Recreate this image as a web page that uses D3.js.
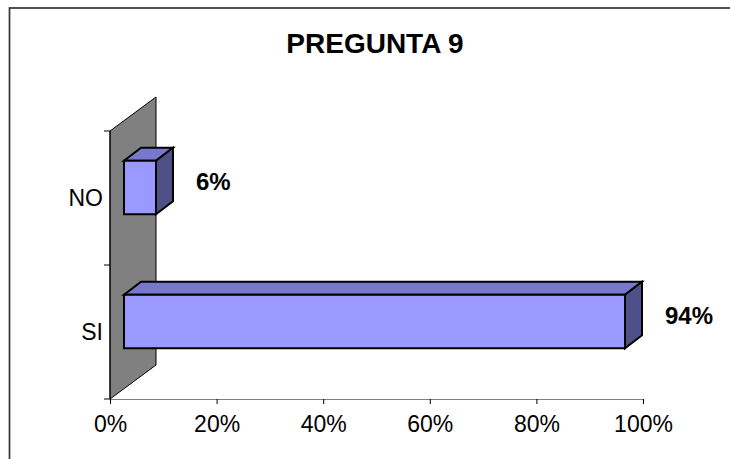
<!DOCTYPE html>
<html>
<head>
<meta charset="utf-8">
<script src="https://cdn.jsdelivr.net/npm/d3@7"></script>
<style>
  body { margin: 0; background: #fff; }
  .chart { width: 730px; height: 459px; }
  text { font-family: "Liberation Sans", Arial, sans-serif; fill: #000; }
</style>
</head>
<body>
<div class="chart"></div>
<script>
// data
let categories = ["NO", "SI"];
let values = [0.06, 0.94];
let valueLabels = ["6%", "94%"];
let xTicks = [0, 0.2, 0.4, 0.6, 0.8, 1];
let titleText = "PREGUNTA 9";

let chart = {};

init();

function init() {
    chart.data = categories.map((c, i) => {
        return { cat: c, val: values[i], label: valueLabels[i] };
    });
    setDimensions();
    setScales();
    appendElements();
}

function setDimensions() {
    chart.width = 730;
    chart.height = 459;
    // depth of the back wall (3d look)
    chart.wall = { dx: 46, dy: -34 };
    // where the bar front sits inside the depth, and bar thickness
    chart.barFront = { dx: 14, dy: -10.5 };
    chart.barBack = { dx: 17, dy: -13 };
}

function setScales() {
    chart.xScale = d3.scaleLinear()
        .domain([0, 1])
        .range([110, 643]);

    chart.yScale = d3.scaleBand()
        .domain(categories)
        .range([131, 399])
        .padding(0);
}

function pts(arr) {
    return arr.map(p => p.join(",")).join(" ");
}

function appendElements() {
    chart.svg = d3.select(".chart").append("svg")
        .attr("width", chart.width)
        .attr("height", chart.height);

    // outer frame
    chart.svg.append("rect")
        .attr("x", 9.5)
        .attr("y", 8)
        .attr("width", 760)
        .attr("height", 500)
        .attr("fill", "none")
        .attr("stroke", "#333")
        .attr("stroke-width", 1.7);

    chart.svg.append("text")
        .attr("x", 375)
        .attr("y", 53)
        .attr("text-anchor", "middle")
        .style("font-size", "28px")
        .style("font-weight", "bold")
        .text(titleText);

    let x0 = chart.xScale(0);
    let yTop = chart.yScale.range()[0];
    let yBot = chart.yScale.range()[1];

    // grey back wall
    chart.svg.append("polygon")
        .attr("points", pts([
            [x0, yTop],
            [x0 + chart.wall.dx, yTop + chart.wall.dy],
            [x0 + chart.wall.dx, yBot + chart.wall.dy],
            [x0, yBot]
        ]))
        .attr("fill", "#808080")
        .attr("stroke", "#000")
        .attr("stroke-width", 1);

    // x axis
    chart.xAxis = chart.svg.append("g")
        .attr("transform", `translate(0,${yBot})`)
        .call(d3.axisBottom(chart.xScale)
            .tickValues(xTicks)
            .tickSize(5)
            .tickPadding(12)
            .tickFormat(d => Math.round(d * 100) + "%"));
    chart.xAxis.select(".domain").attr("stroke", "#808080").attr("stroke-width", 1.2);
    chart.xAxis.selectAll(".tick line").attr("stroke", "#000");
    chart.xAxis.selectAll(".tick text")
        .style("font-size", "23px")
        .attr("fill", "#000");

    // y axis: ticks at band edges
    let yEdges = categories.map(c => chart.yScale(c)).concat([yBot]);
    chart.svg.append("line")
        .attr("x1", x0).attr("x2", x0)
        .attr("y1", yTop).attr("y2", yBot)
        .attr("stroke", "#000");
    chart.svg.selectAll(".ytick")
        .data(yEdges)
        .enter()
        .append("line")
        .attr("class", "ytick")
        .attr("x1", x0 - 6).attr("x2", x0)
        .attr("y1", d => d).attr("y2", d => d)
        .attr("stroke", "#000");

    chart.svg.selectAll(".cat-label")
        .data(categories)
        .enter()
        .append("text")
        .attr("class", "cat-label")
        .attr("x", 103)
        .attr("y", d => chart.yScale(d) + chart.yScale.bandwidth() / 2)
        .attr("dy", "0.35em")
        .attr("text-anchor", "end")
        .style("font-size", "23px")
        .text(d => d);

    // 3d bars
    let bw = chart.yScale.bandwidth() * 0.4;
    let f = chart.barFront;
    let b = chart.barBack;

    chart.bars = chart.svg.selectAll(".bar")
        .data(chart.data)
        .enter()
        .append("g")
        .attr("class", "bar");

    chart.bars.each(function(d) {
        let g = d3.select(this);
        let yc = chart.yScale(d.cat) + chart.yScale.bandwidth() / 2;
        let xa = chart.xScale(0) + f.dx;
        let xb = chart.xScale(d.val) + f.dx;
        let ya = yc - bw / 2 + f.dy;
        let yb = yc + bw / 2 + f.dy;

        g.append("polygon")
            .attr("points", pts([[xa, ya], [xa + b.dx, ya + b.dy], [xb + b.dx, ya + b.dy], [xb, ya]]))
            .attr("fill", "#7777CC");
        g.append("polygon")
            .attr("points", pts([[xb, ya], [xb + b.dx, ya + b.dy], [xb + b.dx, yb + b.dy], [xb, yb]]))
            .attr("fill", "#505088");
        g.append("polygon")
            .attr("points", pts([[xa, ya], [xb, ya], [xb, yb], [xa, yb]]))
            .attr("fill", "#9999FF");
        g.selectAll("polygon")
            .attr("stroke", "#000")
            .attr("stroke-width", 2)
            .attr("stroke-linejoin", "miter");

        g.append("text")
            .attr("x", xb + 40)
            .attr("y", yc + f.dy - 6)
            .attr("dy", "0.35em")
            .style("font-size", "24px")
            .style("font-weight", "bold")
            .text(d.label);
    });
}
</script>
</body>
</html>
